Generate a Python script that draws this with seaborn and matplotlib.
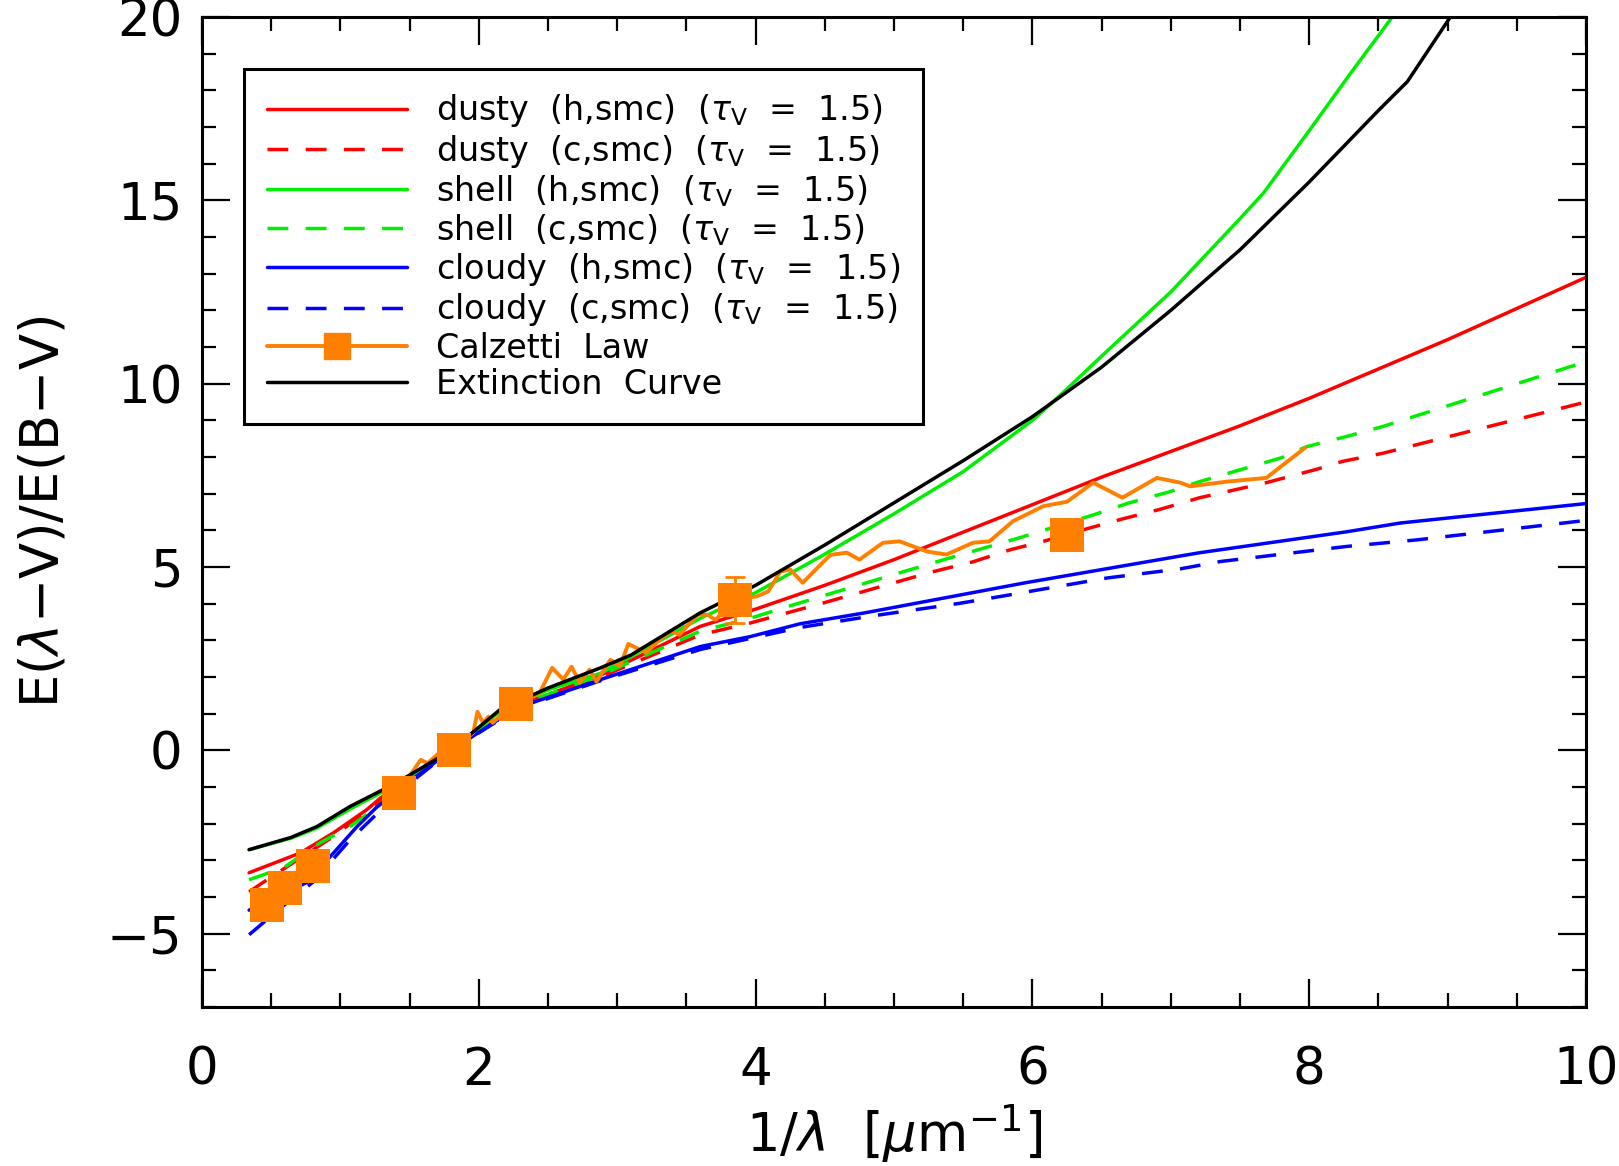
import numpy as np
import pandas as pd
import matplotlib
matplotlib.use("Agg")
import matplotlib.pyplot as plt
from matplotlib.lines import Line2D
from matplotlib.ticker import MultipleLocator
import seaborn as sns

# ---------------- data ----------------
ext_x = [0.34, 0.64, 0.83, 1.07, 1.31, 1.48, 1.8, 2.15, 2.5, 2.88, 3.1, 3.6, 4.0, 4.5, 5.0, 5.5, 6.0,
         6.5, 7.0, 7.5, 8.0, 8.5, 8.71, 9.02, 9.1]
ext_y = [-2.71, -2.38, -2.08, -1.53, -1.07, -0.72, 0.0, 1.1, 1.7, 2.25, 2.6, 3.75, 4.5, 5.6, 6.75, 7.9, 9.1,
         10.45, 12.0, 13.65, 15.5, 17.45, 18.24, 20.0, 20.4]

shell_h_x = [0.34, 0.64, 0.83, 1.07, 1.31, 1.48, 1.8, 2.15, 2.5, 2.88, 3.6, 4.0, 4.5, 5.0, 5.5, 6.0, 6.22,
             6.5, 7.0, 7.5, 7.67, 8.0, 8.3, 8.6, 8.7]
shell_h_y = [-2.71, -2.4, -2.12, -1.6, -1.12, -0.75, 0.0, 1.05, 1.65, 2.1, 3.6, 4.3, 5.35, 6.45, 7.6, 9.0,
             9.75, 10.75, 12.5, 14.5, 15.2, 16.9, 18.47, 20.0, 20.5]

dusty_h_x = [0.34, 0.71, 0.95, 1.19, 1.29, 1.5, 1.8, 2.27, 2.88, 3.6, 4.0, 4.5, 5.0, 5.5, 6.0, 6.5, 7.0,
             7.5, 8.0, 8.5, 9.0, 9.5, 10.0]
dusty_h_y = [-3.34, -2.8, -2.25, -1.62, -1.3, -0.75, 0.0, 1.2, 2.05, 3.38, 3.85, 4.5, 5.2, 5.95, 6.7, 7.45,
             8.15, 8.85, 9.6, 10.4, 11.2, 12.05, 12.9]

dusty_c_x = [0.34, 0.47, 0.95, 1.14, 1.5, 1.8, 2.27, 2.88, 3.6, 3.96, 4.49, 5.28, 5.57, 5.84, 6.08, 6.42,
             6.66, 6.92, 7.21, 7.47, 7.69, 8.05, 8.24, 8.53, 10.0]
dusty_c_y = [-3.86, -3.53, -2.35, -1.8, -0.85, 0.0, 1.2, 2.0, 3.15, 3.47, 4.02, 4.87, 5.14, 5.47, 5.7, 6.07,
             6.32, 6.57, 6.89, 7.11, 7.3, 7.66, 7.88, 8.1, 9.5]

shell_c_x = [0.34, 0.59, 0.85, 1.07, 1.24, 1.5, 1.8, 2.27, 2.88, 3.6, 3.96, 4.24, 5.04, 5.36, 5.91, 6.44,
             6.7, 6.99, 7.21, 7.8, 7.98, 8.27, 8.53, 10.0]
shell_c_y = [-3.53, -3.2, -2.53, -2.08, -1.62, -0.8, 0.0, 1.2, 2.05, 3.25, 3.6, 3.93, 4.84, 5.2, 5.8, 6.42,
             6.75, 7.05, 7.33, 7.98, 8.28, 8.56, 8.83, 10.6]

cloudy_h_x = [0.34, 0.76, 0.95, 1.12, 1.26, 1.5, 1.8, 2.27, 2.88, 3.6, 3.96, 4.32, 4.79, 5.95, 7.07, 7.21,
              8.27, 8.66, 10.0]
cloudy_h_y = [-4.36, -3.6, -2.8, -2.08, -1.56, -0.85, 0.0, 1.15, 1.93, 2.83, 3.1, 3.45, 3.75, 4.57, 5.3, 5.39,
              5.96, 6.2, 6.73]

cloudy_c_x = [0.34, 0.6, 0.8, 1.07, 1.3, 1.5, 1.8, 2.27, 2.88, 3.6, 4.32, 4.87, 5.46, 5.76, 6.54, 7.07,
              7.36, 8.27, 8.78, 10.0]
cloudy_c_y = [-5.03, -4.2, -3.6, -2.44, -1.6, -0.9, 0.0, 1.12, 1.9, 2.75, 3.35, 3.68, 4.0, 4.19, 4.7, 4.95,
              5.15, 5.56, 5.74, 6.27]

calz_x = [1.35, 1.5, 1.58, 1.63, 1.72, 1.81, 1.96, 1.99, 2.03, 2.07, 2.1, 2.15, 2.27, 2.44, 2.53, 2.61, 2.67,
          2.73, 2.8, 2.85, 2.95, 3.02, 3.08, 3.21, 3.3, 3.39, 3.45, 3.58, 3.65, 3.71, 3.85, 4.01, 4.09, 4.18,
          4.25, 4.34, 4.54, 4.66, 4.75, 4.92, 5.04, 5.24, 5.38, 5.57, 5.69, 5.86, 6.08, 6.25, 6.44, 6.65,
          6.9, 7.07, 7.14, 7.41, 7.69, 7.97]
calz_y = [-1.35, -0.7, -0.26, -0.35, -0.05, 0.02, 0.48, 1.05, 0.75, 0.92, 0.75, 0.92, 1.27, 1.57, 2.25, 1.93,
          2.28, 1.84, 2.2, 1.87, 2.47, 2.3, 2.9, 2.66, 3.0, 3.26, 3.15, 3.7, 3.7, 3.56, 4.11, 4.2, 4.33, 4.88,
          4.93, 4.57, 5.33, 5.39, 5.2, 5.66, 5.7, 5.42, 5.34, 5.66, 5.7, 6.25, 6.66, 6.78, 7.3, 6.89,
          7.43, 7.3, 7.2, 7.33, 7.43, 8.25]

pts_x = [0.467, 0.6, 0.8, 1.42, 1.82, 2.27, 3.85, 6.25]
pts_y = [-4.21, -3.75, -3.15, -1.16, 0.02, 1.27, 4.11, 5.86]
pts_err = [0.0, 0.0, 0.0, 0.0, 0.0, 0.0, 0.63, 0.0]

labels = [
    r"dusty  (h,smc)  ($\tau_{\rm V}$  =  1.5)",
    r"dusty  (c,smc)  ($\tau_{\rm V}$  =  1.5)",
    r"shell  (h,smc)  ($\tau_{\rm V}$  =  1.5)",
    r"shell  (c,smc)  ($\tau_{\rm V}$  =  1.5)",
    r"cloudy  (h,smc)  ($\tau_{\rm V}$  =  1.5)",
    r"cloudy  (c,smc)  ($\tau_{\rm V}$  =  1.5)",
    "Calzetti  Law",
    "Extinction  Curve",
]

# ---------------- style ----------------
sns.set_theme(style="ticks")
plt.rcParams["font.family"] = ["DejaVu Sans"]
plt.rcParams["mathtext.fontset"] = "dejavusans"
plt.rcParams["axes.linewidth"] = 2.2
for k in ["text.color", "axes.labelcolor", "xtick.color", "ytick.color", "axes.edgecolor"]:
    plt.rcParams[k] = "black"

RED, GREEN, BLUE, ORANGE, BLACK = "#ff0000", "#00ee00", "#0000ff", "#ff8000", "#000000"
LW = 2.5
DASH = (0, (6, 5))

fig = plt.figure(figsize=(16.19, 11.66), dpi=100)
ax = fig.add_axes([0.1248, 0.1364, 0.9796 - 0.1248, 0.9854 - 0.1364])

series = [
    (dusty_h_x, dusty_h_y, RED, "-"),
    (dusty_c_x, dusty_c_y, RED, DASH),
    (shell_h_x, shell_h_y, GREEN, "-"),
    (shell_c_x, shell_c_y, GREEN, DASH),
    (cloudy_h_x, cloudy_h_y, BLUE, "-"),
    (cloudy_c_x, cloudy_c_y, BLUE, DASH),
]
handles = []
for (xs, ys, col, ls), lab in zip(series, labels[:6]):
    df = pd.DataFrame({"x": xs, "y": ys})
    sns.lineplot(data=df, x="x", y="y", ax=ax, color=col, linestyle=ls, linewidth=LW,
                 sort=False, estimator=None, legend=False)
    handles.append(Line2D([], [], color=col, linestyle=ls, linewidth=LW))

# Calzetti law
dfc = pd.DataFrame({"x": calz_x, "y": calz_y})
sns.lineplot(data=dfc, x="x", y="y", ax=ax, color=ORANGE, linewidth=2.8, sort=False,
             estimator=None, legend=False)
ax.errorbar(pts_x, pts_y, yerr=pts_err, fmt="none", ecolor=ORANGE, elinewidth=2.0, capsize=7,
            capthick=2.0, zorder=4)
dfp = pd.DataFrame({"x": pts_x, "y": pts_y})
sns.scatterplot(data=dfp, x="x", y="y", ax=ax, marker="s", s=24 ** 2, color=ORANGE,
                edgecolor=ORANGE, linewidth=0, zorder=5, legend=False)
handles.append(Line2D([], [], color=ORANGE, linewidth=2.8, marker="s", markersize=19,
                      markerfacecolor=ORANGE, markeredgecolor=ORANGE))

# Extinction curve
dfe = pd.DataFrame({"x": ext_x, "y": ext_y})
sns.lineplot(data=dfe, x="x", y="y", ax=ax, color=BLACK, linewidth=LW, sort=False,
             estimator=None, legend=False)
handles.append(Line2D([], [], color=BLACK, linewidth=LW))

# ---------------- axes ----------------
ax.set_xlim(0, 10)
ax.set_ylim(-7, 20)
ax.xaxis.set_major_locator(MultipleLocator(2))
ax.xaxis.set_minor_locator(MultipleLocator(0.5))
ax.yaxis.set_major_locator(MultipleLocator(5))
ax.yaxis.set_minor_locator(MultipleLocator(1))
ax.tick_params(which="both", direction="in", top=True, right=True, colors="black")
ax.tick_params(which="major", length=20, width=1.6, labelsize=37)
ax.tick_params(which="minor", length=10, width=1.6)
ax.tick_params(axis="x", which="major", pad=28)
ax.tick_params(axis="y", which="major", pad=14)
for s in ax.spines.values():
    s.set_visible(True)
    s.set_linewidth(2.2)
    s.set_color("black")

ax.set_xlabel(r"1/$\lambda$  [$\mu$m$^{-1}$]", fontsize=38, color="black")
ax.set_ylabel(r"E($\lambda$$-$V)/E(B$-$V)", fontsize=38, color="black")
ax.xaxis.set_label_coords(0.5, -0.096)
ax.yaxis.set_label_coords(-0.096, 0.5)

leg = ax.legend(handles, labels, loc="upper left", bbox_to_anchor=(0.0303, 0.9475),
                borderaxespad=0, fontsize=24, frameon=True, fancybox=False, shadow=False,
                handlelength=4.2, handletextpad=0.85, labelspacing=0.1, borderpad=0.7,
                framealpha=1.0)
leg.get_frame().set_edgecolor("black")
leg.get_frame().set_linewidth(2.2)
for t in leg.get_texts():
    t.set_color("black")

fig.savefig("out.png", dpi=100)
